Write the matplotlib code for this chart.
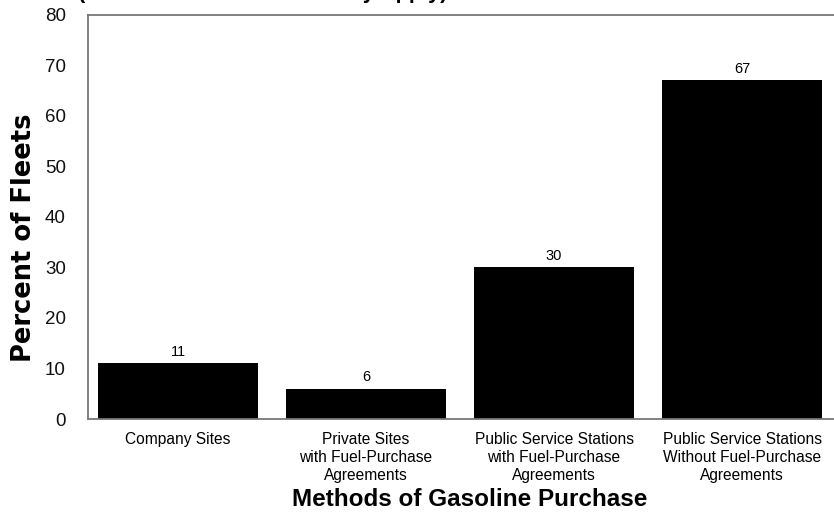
import matplotlib
matplotlib.use("Agg")
import matplotlib.pyplot as plt

categories = ["Company Sites",
              "Private Sites\nwith Fuel-Purchase\nAgreements",
              "Public Service Stations\nwith Fuel-Purchase\nAgreements",
              "Public Service Stations\nWithout Fuel-Purchase\nAgreements"]
values = [11, 6, 30, 67]
yticks = [0, 10, 20, 30, 40, 50, 60, 70, 80]
title = "(More Than One Answer May Apply)"
xlabel = "Methods of Gasoline Purchase"
ylabel = "Percent of Fleets"

plt.rcParams['font.family'] = ['Liberation Sans', 'DejaVu Sans']

W, H = 834, 519
fig = plt.figure(figsize=(W / 100, H / 100), dpi=100)
ax = fig.add_axes([88 / W, (H - 419) / H, (W - 88 + 3) / W, (419 - 14.5) / H])

x = list(range(len(categories)))
bars = ax.bar(x, values, width=0.851, color='black', zorder=2)
for xi, v in zip(x, values):
    ax.annotate(str(v), (xi, v), xytext=(0, 3), textcoords='offset points',
                ha='center', va='bottom', fontsize=10.5)

ax.set_xlim(-0.479, 3.489 + 3 / 188)
ax.set_ylim(0, 80)
ax.set_yticks(yticks)
ax.set_yticklabels([str(t) for t in yticks], fontsize=13.5, color='#111111')
ax.set_xticks(x)
ax.set_xticklabels(categories, fontsize=11.2, linespacing=1.25, va='top')
ax.tick_params(axis='both', length=0)
ax.tick_params(axis='y', pad=16)
ax.tick_params(axis='x', pad=9.5)
for s in ['left', 'top', 'bottom']:
    ax.spines[s].set_color('#777777')
    ax.spines[s].set_linewidth(1.3)
ax.spines['right'].set_visible(False)

fig.text(470 / W, (H - 499) / H, xlabel, ha='center', va='center',
         fontsize=17.5, fontweight='bold')
fig.text(24 / W, (H - 238) / H, ylabel, ha='center', va='center',
         rotation=90, fontsize=18.5, fontweight='bold', family='DejaVu Sans')
fig.text(78 / W, 1 + 2 / H, title, ha='left', va='baseline',
         fontsize=15.6, fontweight='bold')

fig.savefig("out.png", dpi=100)
